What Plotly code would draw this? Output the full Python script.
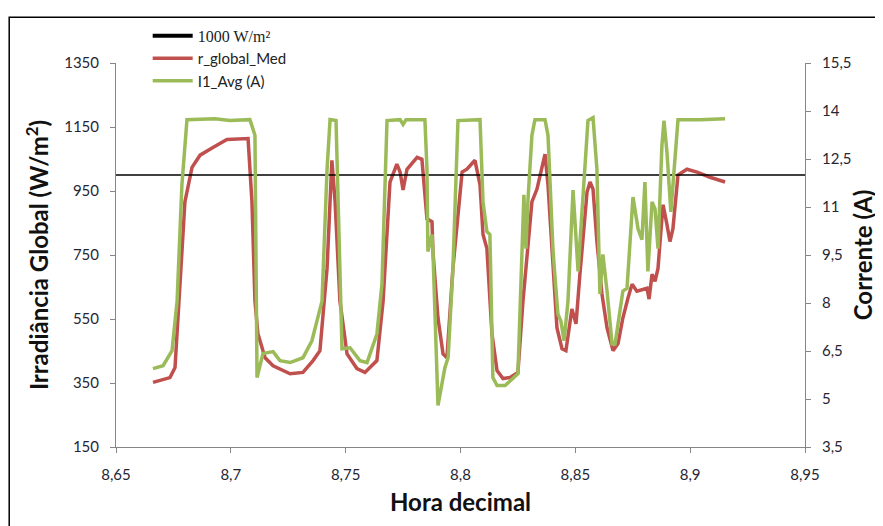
import plotly.graph_objects as go

# ---- data ----
hora_red = [8.6661, 8.6735, 8.6757, 8.6779, 8.6800, 8.6831, 8.6866, 8.6922, 8.6983, 8.7075,
            8.7092, 8.7105, 8.7118, 8.7149, 8.7184, 8.7258, 8.7314, 8.7358, 8.7388, 8.7419,
            8.7440, 8.7454, 8.7475, 8.7506, 8.7549, 8.7584, 8.7636, 8.7663, 8.7693, 8.7723,
            8.7737, 8.7750, 8.7767, 8.7811, 8.7832, 8.7854, 8.7876, 8.7880, 8.7902, 8.7924,
            8.7941, 8.7967, 8.8007, 8.8028, 8.8063, 8.8085, 8.8098, 8.8115, 8.8137, 8.8159,
            8.8185, 8.8216, 8.8250, 8.8272, 8.8290, 8.8311, 8.8333, 8.8346, 8.8368, 8.8381,
            8.8403, 8.8420, 8.8442, 8.8459, 8.8485, 8.8503, 8.8520, 8.8551, 8.8564, 8.8577,
            8.8594, 8.8616, 8.8638, 8.8664, 8.8686, 8.8707, 8.8729, 8.8747, 8.8768, 8.8795,
            8.8812, 8.8821, 8.8834, 8.8847, 8.8860, 8.8869, 8.8882, 8.8899, 8.8912, 8.8925,
            8.8947, 8.8986, 8.9030, 8.9086, 8.9152]
r_global_med = [352, 367, 398, 658, 916, 1024, 1062, 1086, 1111, 1114,
                916, 606, 504, 429, 404, 379, 383, 420, 451, 708,
                1046, 916, 606, 441, 395, 383, 420, 606, 978, 1034,
                1009, 953, 1018, 1055, 1049, 863, 854, 761, 553, 441,
                429, 708, 1009, 1018, 1046, 969, 814, 770, 504, 389,
                364, 367, 383, 606, 761, 916, 956, 1000, 1065, 969,
                708, 522, 457, 451, 581, 535, 690, 947, 978, 956,
                792, 628, 522, 451, 473, 553, 615, 659, 637, 643,
                646, 612, 690, 668, 708, 792, 907, 845, 792, 832,
                1000, 1018, 1009, 993, 978]

hora_green = [8.6661, 8.6705, 8.6744, 8.6766, 8.6787, 8.6809, 8.6931, 8.6996, 8.7083, 8.7105,
              8.7114, 8.7140, 8.7184, 8.7214, 8.7258, 8.7314, 8.7353, 8.7366, 8.7397, 8.7419,
              8.7432, 8.7458, 8.7467, 8.7484, 8.7519, 8.7562, 8.7593, 8.7636, 8.7658, 8.7680,
              8.7737, 8.7750, 8.7763, 8.7845, 8.7854, 8.7858, 8.7876, 8.7880, 8.7902, 8.7932,
              8.7946, 8.7967, 8.7989, 8.8085, 8.8098, 8.8115, 8.8128, 8.8141, 8.8159, 8.8194,
              8.8250, 8.8268, 8.8276, 8.8285, 8.8294, 8.8311, 8.8324, 8.8368, 8.8381, 8.8403,
              8.8424, 8.8437, 8.8451, 8.8468, 8.8490, 8.8512, 8.8542, 8.8555, 8.8577, 8.8594,
              8.8607, 8.8620, 8.8638, 8.8660, 8.8673, 8.8707, 8.8725, 8.8751, 8.8773, 8.8790,
              8.8803, 8.8816, 8.8834, 8.8847, 8.8860, 8.8877, 8.8886, 8.8899, 8.8916, 8.8934,
              8.8947, 8.9043, 8.9152]
i1_avg = [5.95, 6.04, 6.51, 8.06, 11.69, 13.73, 13.76, 13.70, 13.73, 13.24,
          5.67, 6.42, 6.48, 6.20, 6.14, 6.29, 6.82, 7.22, 8.06, 12.18,
          13.73, 13.70, 11.16, 6.57, 6.60, 6.20, 6.14, 7.03, 8.59, 13.70,
          13.73, 13.58, 13.73, 13.73, 12.18, 9.61, 10.14, 9.61, 4.80, 5.98,
          6.29, 9.08, 13.70, 13.73, 11.16, 10.23, 10.14, 5.67, 5.42, 5.42,
          5.79, 10.14, 11.38, 9.70, 11.25, 13.24, 13.73, 13.73, 13.24, 9.61,
          7.66, 7.44, 6.82, 8.06, 11.53, 8.99, 12.18, 13.70, 13.79, 12.18,
          8.28, 9.52, 8.37, 6.72, 6.72, 8.37, 8.46, 11.31, 10.32, 9.98,
          11.78, 8.99, 11.16, 10.94, 9.70, 12.93, 13.70, 12.71, 10.85, 12.71,
          13.73, 13.73, 13.76]

ref_x = [8.65, 8.95]
ref_y = [1000, 1000]

x_ticks = [8.65, 8.70, 8.75, 8.80, 8.85, 8.90, 8.95]
x_labels = ["8,65", "8,7", "8,75", "8,8", "8,85", "8,9", "8,95"]
y1_ticks = [150, 350, 550, 750, 950, 1150, 1350]
y2_ticks = [3.5, 5, 6.5, 8, 9.5, 11, 12.5, 14, 15.5]
y2_labels = ["3,5", "5", "6,5", "8", "9,5", "11", "12,5", "14", "15,5"]

RED = "#C0504D"
GREEN = "#9BBB59"
AXIS = "#868686"
FONT = "Lato"

fig = go.Figure()
fig.add_trace(go.Scatter(x=hora_red, y=r_global_med, mode="lines", name="r_global_Med",
                         line=dict(color=RED, width=3.5), legendrank=2))
fig.add_trace(go.Scatter(x=hora_green, y=i1_avg, mode="lines", name="I1_Avg (A)", yaxis="y2",
                         line=dict(color=GREEN, width=3.5), legendrank=3))
fig.add_trace(go.Scatter(x=ref_x, y=ref_y, mode="lines", showlegend=False,
                         line=dict(color="black", width=1.5)))
# legend entry for the 1000 W/m² reference line (thicker symbol, as in the reference)
fig.add_trace(go.Scatter(x=[None], y=[None], mode="lines",
                         name="<span style='font-family:Liberation Serif;font-size:16px'>1000 W/m²</span>",
                         line=dict(color="black", width=4), legendrank=1))

tickfont = dict(family=FONT, size=15, color="#262633")
titlefont = dict(family=FONT, size=24, color="#111")
fig.update_layout(
    width=875, height=518,
    margin=dict(l=108, r=78, t=52, b=79),
    paper_bgcolor="white", plot_bgcolor="white",
    font=dict(family=FONT, size=13, color="#222"),
    showlegend=True,
    legend=dict(x=0.046, y=1.113, xanchor="left", yanchor="top",
                bgcolor="rgba(0,0,0,0)",
                font=dict(family=FONT, size=15, color="#222"), tracegroupgap=0,
                itemwidth=40),
    xaxis=dict(range=[8.65, 8.95], tickvals=x_ticks, ticktext=x_labels, showgrid=False,
               zeroline=False, showline=True, linecolor=AXIS, linewidth=1,
               ticks="outside", ticklen=5, tickcolor=AXIS, tickfont=tickfont,
               ticklabelstandoff=9,
               title=dict(text="<b>Hora decimal</b>", font=titlefont, standoff=12)),
    yaxis=dict(range=[150, 1350], tickvals=y1_ticks, showgrid=False, zeroline=False,
               showline=True, linecolor=AXIS, linewidth=1, ticks="outside", ticklen=5,
               tickcolor=AXIS, tickfont=tickfont, ticklabelstandoff=8,
               title=dict(text="<b>Irradiância Global (W/m<sup>2</sup>)</b>",
                          font=titlefont, standoff=8)),
    yaxis2=dict(range=[3.5, 15.5], tickvals=y2_ticks, ticktext=y2_labels, overlaying="y",
                side="right", showgrid=False, zeroline=False, showline=True, linecolor=AXIS,
                linewidth=1, ticks="outside", ticklen=5, tickcolor=AXIS, tickfont=tickfont,
                ticklabelstandoff=8,
                title=dict(text="<b>Corrente (A)</b>", font=titlefont, standoff=4)),
    shapes=[dict(type="rect", xref="paper", yref="paper", x0=-0.155, x1=1.2, y0=-0.3, y1=1.119,
                 line=dict(color="black", width=1.5), fillcolor="rgba(0,0,0,0)", layer="below")],
)

fig.write_html("out.html")
